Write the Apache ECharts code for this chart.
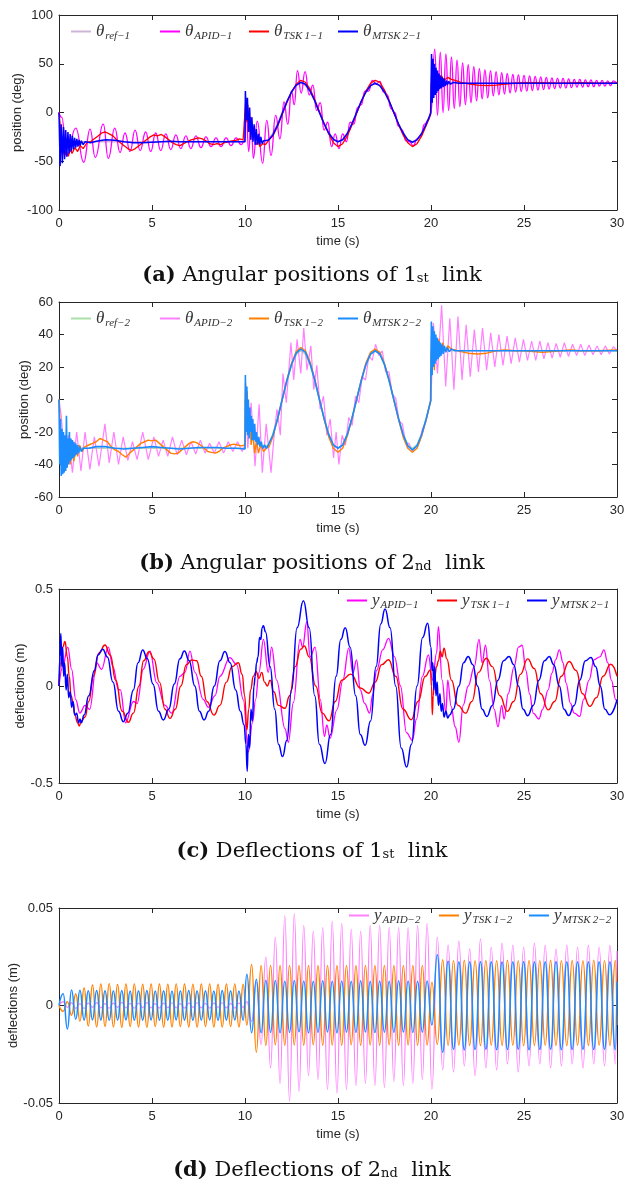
<!DOCTYPE html>
<html>
<head>
<meta charset="utf-8">
<script src="https://cdn.jsdelivr.net/npm/echarts@6/dist/echarts.min.js"></script>
<style>html,body{margin:0;padding:0;background:#fff}#c{width:624px;height:1185px}</style>
</head>
<body>
<div id="c"></div>
<script>
// ---------- (a) angular position of link 1 ----------
const a_ref = [[0,-30],[10,-30],[10,0],[10.25,-11.5],[10.5,-21.2],[10.75,-27.7],[11,-30],[11.25,-27.7],[11.5,-21.2],[11.75,-11.5],[12,0],[12.25,11.5],[12.5,21.2],[12.75,27.7],[13,30],[13.25,27.7],[13.5,21.2],[13.75,11.5],[14,0],[14.25,-11.5],[14.5,-21.2],[14.75,-27.7],[15,-30],[15.25,-27.7],[15.5,-21.2],[15.75,-11.5],[16,0],[16.25,11.5],[16.5,21.2],[16.75,27.7],[17,30],[17.25,27.7],[17.5,21.2],[17.75,11.5],[18,0],[18.25,-11.5],[18.5,-21.2],[18.75,-27.7],[19,-30],[19.25,-27.7],[19.5,-21.2],[19.75,-11.5],[20,0],[20,30],[30,30]];
const a_apid = [[0,0],[0.15,-5],[0.41,-45],[0.9,-16],[1.33,-51],[1.67,-17],[1.95,-46],[2.38,-12],[2.65,-47],[3.0,-16],[3.28,-41],[3.55,-21],[3.82,-40],[4.09,-18],[4.36,-39],[4.66,-20],[4.93,-40],[5.2,-21],[5.47,-39],[5.74,-22],[6.01,-38],[6.28,-23],[6.55,-37],[6.82,-24],[7.09,-37],[7.36,-24],[7.63,-36],[7.9,-25],[8.17,-35],[8.44,-26],[8.71,-35],[8.98,-26],[9.25,-34],[9.52,-26],[9.79,-33],[10,-28],
[10.04,15],[10.2,-40],[10.33,-5],[10.45,-47],[10.66,-9],[10.95,-52],[11.17,-8],[11.4,-44],[11.65,-3],[11.88,-27],[12.1,11],[12.3,-12],[12.5,22],[12.65,8],[12.82,43],[13.02,20],[13.23,42],[13.45,18],[13.65,28],[13.85,2],[14.05,10],[14.25,-18],[14.45,-10],[14.65,-35],[14.85,-22],[15.05,-37],[15.25,-22],[15.45,-30],[15.65,-10],[15.85,-12],[16.05,5],[16.25,8],[16.45,22],[16.65,22],[16.85,33],[17.05,29],[17.25,32],[17.45,21],[17.65,18],[17.85,4],[18.05,0],[18.25,-14],[18.45,-18],[18.65,-29],[18.85,-30],[19.05,-34],[19.25,-27],[19.45,-24],[19.65,-12],[19.85,-8],[20,0],
[20.2,65],[20.35,-3],[20.5,62],[20.65,0],[20.8,60],[20.95,2],[21.1,57],[21.25,4],[21.4,54],[21.55,6],[21.7,51],[21.85,8],[22.0,49],[22.15,10],[22.3,47],[22.45,12],[22.6,45],[22.75,14],[22.9,44],[23.05,15],[23.2,43],[23.35,17],[23.5,42],[23.65,18],[23.8,41],[23.95,19],[24.1,40],[24.25,20],[24.4,39],[24.55,21],[24.7,38.5],[24.85,21.5],[25.0,38],[25.15,22],[25.3,37.5],[25.45,22.5],[25.6,37],[25.75,23],[25.9,36.5],[26.05,23.5],[26.2,36],[26.35,24],[26.5,35.5],[26.65,24.5],[26.8,35],[26.95,25],[27.1,35],[27.25,25],[27.4,34.5],[27.55,25.5],[27.7,34],[27.85,26],[28.0,34],[28.15,26],[28.3,33.5],[28.45,26.5],[28.6,33.5],[28.75,26.5],[28.9,33],[29.05,27],[29.2,33],[29.35,27],[29.5,32.5],[29.65,27.5],[29.8,32.5],[30,30]];
const a_tsk = [[0,0],[0.1,-20],[0.2,-38],[0.3,-44],[0.4,-40],[0.5,-45],[0.6,-38],[0.7,-42],[0.85,-36],[1.0,-40],[1.15,-34],[1.3,-37],[1.5,-31],[1.7,-30],[1.9,-27],[2.1,-24],[2.3,-21],[2.5,-20],[2.7,-22],[2.9,-24],[3.1,-28],[3.3,-31],[3.5,-34],[3.7,-37],[3.9,-39],[4.1,-37],[4.3,-34],[4.5,-31],[4.7,-28],[4.9,-25],[5.1,-23],[5.3,-24],[5.5,-22.5],[5.7,-25],[5.9,-28],[6.1,-31],[6.3,-33],[6.5,-34],[6.7,-32],[6.9,-30],[7.1,-28],[7.3,-27],[7.5,-26],[7.7,-27],[7.9,-29],[8.1,-32],[8.3,-33],[8.5,-32],[8.7,-33],[8.9,-31],[9.1,-30],[9.3,-29],[9.5,-28.5],[9.7,-27],[9.9,-28],[10,-27],
[10.05,15],[10.1,-10],[10.15,8],[10.22,-20],[10.3,-5],[10.4,-28],[10.5,-20],[10.6,-33],[10.7,-30],[10.8,-35],[10.95,-32],[11.1,-33],[11.25,-29],[11.5,-24],[11.75,-14],[12,-2],[12.25,10],[12.5,21],[12.75,29],[13,33],[13.25,31],[13.5,24],[13.75,13],[14,1],[14.25,-11],[14.5,-22],[14.75,-31],[15,-35],[15.25,-32],[15.5,-24],[15.75,-13],[16,-1],[16.25,11],[16.5,22],[16.75,30],[17,33],[17.25,31],[17.5,23],[17.75,12],[18,0],[18.25,-12],[18.5,-23],[18.75,-31],[19,-35],[19.25,-32],[19.5,-24],[19.75,-13],[19.98,-2],
[20.04,45],[20.1,25],[20.18,42],[20.26,30],[20.35,40],[20.45,32],[20.55,38],[20.7,33],[20.9,36],[21.1,34],[21.3,33],[21.6,31],[22,29.5],[22.5,28],[23,27.5],[23.5,28],[24,29],[24.5,30],[25,30.5],[26,30.5],[27,30],[28,30.5],[29,30],[30,30]];
const a_mtsk = [[0,0],[0.06,-55],[0.12,-12],[0.18,-52],[0.24,-15],[0.3,-48],[0.36,-18],[0.42,-45],[0.48,-20],[0.54,-42],[0.6,-22],[0.66,-40],[0.72,-24],[0.78,-38],[0.84,-26],[0.9,-36],[0.96,-27],[1.02,-35],[1.08,-28],[1.14,-34],[1.2,-29],[1.3,-33],[1.4,-30],[1.5,-32],[1.7,-31],[2.0,-29.5],[2.5,-28],[3.0,-28.5],[3.5,-30],[4.0,-31],[4.5,-31],[5.0,-30.5],[5.5,-30],[6.0,-29.5],[6.5,-30],[7.0,-30],[8,-30],[9,-30],[10,-30],
[10.02,22],[10.08,-8],[10.13,15],[10.19,-20],[10.25,5],[10.31,-28],[10.37,-5],[10.43,-30],[10.49,-12],[10.55,-33],[10.61,-17],[10.67,-33],[10.73,-22],[10.79,-33],[10.85,-25],[10.92,-32],[11.0,-29],[11.1,-31],[11.25,-28.5],[11.5,-23],[11.75,-13],[12,-1],[12.25,11],[12.5,21],[12.75,28],[13,31],[13.25,29],[13.5,22],[13.75,12],[14,0],[14.25,-11.5],[14.5,-21],[14.75,-27.5],[15,-30],[15.25,-28],[15.5,-21.5],[15.75,-11.5],[16,0],[16.25,11.5],[16.5,21],[16.75,27.5],[17,30],[17.25,27.5],[17.5,21],[17.75,11.5],[18,0],[18.25,-11.5],[18.5,-21],[18.75,-28],[19,-30.5],[19.25,-28],[19.5,-21.5],[19.75,-11.5],[19.98,-1],
[20.03,60],[20.07,10],[20.11,55],[20.15,15],[20.19,50],[20.23,18],[20.27,46],[20.31,20],[20.35,43],[20.39,22],[20.43,40],[20.47,24],[20.51,38],[20.55,25],[20.6,36],[20.65,26],[20.7,35],[20.76,27],[20.82,33],[20.88,28],[20.95,32],[21.05,29],[21.2,31],[21.5,30],[22,30],[25,30],[30,30]];

// ---------- (b) angular position of link 2 ----------
const b_ref = [[0,-30],[10,-30],[10,0],[10.25,-11.5],[10.5,-21.2],[10.75,-27.7],[11,-30],[11.25,-27.7],[11.5,-21.2],[11.75,-11.5],[12,0],[12.25,11.5],[12.5,21.2],[12.75,27.7],[13,30],[13.25,27.7],[13.5,21.2],[13.75,11.5],[14,0],[14.25,-11.5],[14.5,-21.2],[14.75,-27.7],[15,-30],[15.25,-27.7],[15.5,-21.2],[15.75,-11.5],[16,0],[16.25,11.5],[16.5,21.2],[16.75,27.7],[17,30],[17.25,27.7],[17.5,21.2],[17.75,11.5],[18,0],[18.25,-11.5],[18.5,-21.2],[18.75,-27.7],[19,-30],[19.25,-27.7],[19.5,-21.2],[19.75,-11.5],[20,0],[20,30],[30,30]];
const b_apid = [[0,0],[0.12,-10],[0.3,-38],[0.5,-22],[0.72,-45],[0.95,-20],[1.18,-44],[1.4,-20],[1.66,-43],[1.9,-23],[2.15,-41],[2.47,-15],[2.7,-39],[2.95,-20],[3.2,-40],[3.45,-23],[3.7,-37.5],[3.95,-26],[4.2,-37],[4.5,-20],[4.8,-37],[5.1,-23],[5.35,-35],[5.6,-25],[5.85,-35],[6.1,-23],[6.35,-34],[6.6,-25],[6.85,-34],[7.1,-26],[7.35,-33.5],[7.6,-25],[7.85,-33],[8.1,-27],[8.35,-33],[8.6,-26],[8.85,-33],[9.1,-26],[9.35,-32],[9.6,-26],[9.85,-32],[10,-28],
[10.03,5],[10.15,-30],[10.33,-2],[10.54,-41],[10.76,-3],[10.93,-45],[11.14,-15],[11.4,-45],[11.58,-20],[11.72,-6],[11.9,-22],[12.04,16],[12.22,-2],[12.47,35],[12.62,12],[12.8,37],[13.0,16],[13.16,44],[13.33,18],[13.54,33],[13.7,6],[13.86,21],[14.04,-6],[14.22,2],[14.4,-22],[14.58,-12],[14.76,-36],[14.9,-20],[15.05,-40],[15.22,-22],[15.4,-28],[15.58,-11],[15.76,-16],[15.94,2],[16.12,-2],[16.3,14],[16.48,12],[16.66,27],[16.84,24],[17.02,34],[17.2,27],[17.38,30],[17.56,17],[17.74,17],[17.92,3],[18.1,1],[18.28,-13],[18.46,-15],[18.64,-27],[18.82,-27],[19,-32],[19.18,-29],[19.36,-27],[19.54,-18],[19.72,-14],[19.9,-4],[20,0],
[20.13,47],[20.35,16],[20.57,58],[20.79,8],[21.01,50],[21.23,6],[21.45,51],[21.67,12],[21.89,46],[22.11,14],[22.33,43],[22.55,17],[22.77,44],[22.99,18],[23.21,41],[23.43,20],[23.65,40],[23.87,21],[24.09,39],[24.31,22],[24.53,38],[24.75,23],[24.97,37],[25.19,24],[25.41,36],[25.63,24],[25.85,36],[26.07,25],[26.29,35],[26.51,25.5],[26.73,34.5],[26.95,26],[27.17,35],[27.39,26.5],[27.61,34],[27.83,27],[28.05,34],[28.27,27],[28.49,33.5],[28.71,27.5],[28.93,33],[29.15,27.5],[29.37,33],[29.59,28],[29.81,32.5],[30,30]];
const b_tsk = [[0,0],[0.1,-25],[0.2,-38],[0.3,-30],[0.4,-42],[0.5,-32],[0.6,-40],[0.7,-30],[0.8,-38],[0.9,-29],[1.0,-35],[1.1,-28],[1.25,-32],[1.4,-29],[1.6,-28],[1.8,-27],[2.0,-26],[2.2,-24],[2.4,-25],[2.6,-26],[2.8,-29],[3.0,-31],[3.2,-32],[3.4,-34],[3.6,-35.5],[3.8,-33],[4.0,-31],[4.2,-29],[4.4,-27],[4.6,-26],[4.8,-25],[5.0,-25.5],[5.2,-25],[5.4,-27],[5.6,-29],[5.8,-31],[6.0,-33],[6.2,-33.5],[6.4,-33],[6.6,-31],[6.8,-29],[7.0,-27],[7.2,-26],[7.4,-26.5],[7.6,-28],[7.8,-30],[8.0,-32],[8.2,-32.5],[8.4,-33],[8.6,-32],[8.8,-30],[9.0,-29],[9.2,-28],[9.4,-27.5],[9.6,-28],[9.8,-28.5],[10,-28],
[10.03,10],[10.07,-15],[10.12,5],[10.18,-20],[10.25,-10],[10.33,-28],[10.42,-20],[10.52,-33],[10.62,-25],[10.72,-33],[10.85,-28],[11,-32],[11.15,-30],[11.3,-29],[11.5,-23],[11.75,-12],[12,0],[12.25,12],[12.5,22],[12.75,29.5],[13,32],[13.25,30],[13.5,23],[13.75,12.5],[14,0.5],[14.25,-12],[14.5,-23],[14.75,-30],[15,-32.5],[15.25,-30],[15.5,-22.5],[15.75,-12],[16,0],[16.25,12],[16.5,22.5],[16.75,29],[17,31],[17.25,29],[17.5,22],[17.75,12],[18,0],[18.25,-12],[18.5,-23],[18.75,-30],[19,-32.5],[19.25,-30],[19.5,-22.5],[19.75,-12],[19.98,-1],
[20.04,43],[20.08,20],[20.12,40],[20.18,18],[20.25,38],[20.33,25],[20.42,37],[20.52,28],[20.62,35],[20.75,30],[20.9,33],[21.1,31],[21.3,30.5],[21.6,29.5],[22,28.5],[22.5,28],[23,28.5],[23.5,30],[24,30.5],[24.5,30],[25,30],[25.5,29.5],[26,29],[26.5,29.5],[27,30],[27.5,30.5],[28,30],[29,30],[30,30.5]];
const b_mtsk = [[0,0],[0.04,-40],[0.08,-12],[0.12,-47],[0.16,-18],[0.2,-46],[0.24,-20],[0.28,-45],[0.32,-22],[0.36,-44],[0.4,-10],[0.44,-42],[0.48,-24],[0.52,-40],[0.56,-20],[0.6,-38],[0.64,-24],[0.68,-37],[0.72,-25],[0.76,-36],[0.8,-26],[0.85,-35],[0.9,-27],[0.95,-34],[1.0,-28],[1.06,-33],[1.12,-29],[1.2,-32],[1.3,-30],[1.4,-31],[1.6,-30],[2.0,-29],[2.5,-29],[3.0,-30],[3.5,-30.5],[4.0,-30],[4.5,-29.5],[5.0,-29],[5.5,-29.5],[6.0,-30],[6.5,-30.5],[7.0,-30],[7.5,-29.5],[8.0,-29.5],[8.5,-29.5],[9.0,-30],[9.5,-30],[10,-30.5],
[10.02,15],[10.06,-20],[10.1,8],[10.14,-22],[10.18,0],[10.22,-24],[10.26,-5],[10.3,-20],[10.34,-10],[10.38,-25],[10.42,-12],[10.47,-25],[10.52,-15],[10.57,-26],[10.62,-20],[10.68,-28],[10.74,-23],[10.8,-29],[10.87,-26],[10.95,-30],[11.05,-28],[11.15,-30],[11.25,-28],[11.5,-22],[11.75,-12],[12,0],[12.25,11.5],[12.5,21.5],[12.75,28.5],[13,31],[13.25,29],[13.5,22],[13.75,12],[14,0],[14.25,-11.5],[14.5,-21.5],[14.75,-28],[15,-30],[15.25,-28],[15.5,-21.5],[15.75,-11.5],[16,0],[16.25,11.5],[16.5,21.5],[16.75,28],[17,30],[17.25,28],[17.5,21.5],[17.75,11.5],[18,0],[18.25,-11.5],[18.5,-21.5],[18.75,-28.5],[19,-31],[19.25,-28.5],[19.5,-21.5],[19.75,-11.5],[19.98,-1],
[20.02,48],[20.06,15],[20.1,45],[20.14,20],[20.18,42],[20.22,22],[20.26,40],[20.3,24],[20.34,38],[20.38,25],[20.42,36],[20.46,26],[20.5,35],[20.55,27],[20.6,34],[20.66,28],[20.72,33],[20.8,29],[20.88,32],[20.98,29.5],[21.1,31],[21.3,30],[22,30],[25,30],[30,30]];

// ---------- (c) deflection of link 1 ----------
const c_apid = [[0,0],[0.2,0.1],[0.47,0.2],[0.68,0.086],[0.9,-0.07],[1.12,-0.14],[1.4,-0.1],[1.65,-0.12],[2.02,0.12],[2.29,0.086],[2.65,0.2],[2.9,0.1],[3.19,-0.017],[3.3,-0.02],[3.58,-0.19],[4.0,-0.08],[4.2,-0.09],[4.53,0.086],[4.89,0.18],[5.25,0.017],[5.7,-0.1],[6.06,-0.14],[6.5,0.05],[6.77,0.07],[7.04,0.18],[7.31,0.07],[7.76,-0.07],[8.03,-0.11],[8.39,-0.05],[8.65,0.05],[9.19,0.146],[9.55,0.11],[9.91,-0.07],[10.18,-0.34],[10.4,-0.19],[10.57,-0.07],[10.75,0.07],[10.99,0.24],[11.25,0.07],[11.43,0.2],[11.7,0.03],[12.15,-0.22],[12.33,-0.29],[12.6,-0.085],[12.96,0.24],[13.1,0.2],[13.32,0.33],[13.5,0.15],[13.77,0.2],[14.05,-0.07],[14.27,-0.26],[14.4,-0.2],[14.57,-0.27],[14.94,-0.123],[15.26,0.03],[15.58,0.195],[15.8,0.066],[16.0,0.135],[16.2,-0.02],[16.43,-0.09],[16.7,-0.14],[16.86,-0.045],[17.08,0.08],[17.4,0.186],[17.72,0.246],[18.04,0.15],[18.36,0.0],[18.68,-0.24],[19.0,-0.28],[19.22,-0.17],[19.54,0.05],[19.86,0.16],[20.08,0.03],[20.3,0.17],[20.4,0.306],[20.6,0.03],[20.8,-0.14],[20.9,0.03],[21.08,-0.105],[21.3,-0.21],[21.5,-0.29],[21.73,-0.1],[22.0,0.0],[22.33,0.1],[22.58,0.24],[22.75,0.12],[22.93,0.21],[23.14,0.03],[23.4,-0.12],[23.6,-0.21],[23.8,-0.1],[23.93,-0.17],[24.15,-0.04],[24.47,0.1],[24.7,0.2],[24.9,0.21],[25.1,0.08],[25.3,-0.04],[25.5,-0.14],[25.8,-0.17],[26.0,-0.12],[26.3,-0.02],[26.5,0.066],[26.7,0.135],[26.9,0.186],[27.1,0.12],[27.26,0.015],[27.5,-0.09],[27.7,-0.14],[28.0,-0.157],[28.2,-0.07],[28.5,0.03],[28.76,0.135],[29.08,0.15],[29.3,0.186],[29.5,0.12],[29.7,0.03],[29.93,-0.07],[30,-0.08]];
const c_tsk = [[0,0],[0.1,0.12],[0.2,0.2],[0.32,0.23],[0.45,0.15],[0.55,0.05],[0.65,-0.05],[0.75,-0.08],[0.85,-0.15],[1.0,-0.19],[1.09,-0.206],[1.2,-0.18],[1.4,-0.16],[1.6,-0.08],[1.85,0.05],[2.15,0.17],[2.47,0.211],[2.75,0.16],[3.05,0.03],[3.4,-0.13],[3.73,-0.187],[4.0,-0.14],[4.3,0.0],[4.55,0.13],[4.84,0.177],[5.1,0.14],[5.4,0.02],[5.7,-0.12],[5.97,-0.167],[6.25,-0.12],[6.55,0.0],[6.85,0.11],[7.13,0.134],[7.4,0.13],[7.65,0.05],[7.95,-0.08],[8.33,-0.15],[8.65,-0.1],[9.0,0.02],[9.3,0.1],[9.64,0.12],[9.85,0.06],[9.98,-0.05],[10.1,-0.227],[10.2,-0.12],[10.3,-0.02],[10.45,0.05],[10.6,0.075],[10.75,0.04],[10.9,0.07],[11.05,0.02],[11.2,0.0],[11.35,0.03],[11.55,-0.03],[11.8,-0.1],[12.15,-0.115],[12.4,-0.05],[12.7,0.1],[13.0,0.19],[13.19,0.206],[13.45,0.15],[13.8,0.0],[14.15,-0.14],[14.52,-0.18],[14.85,-0.08],[15.2,0.03],[15.69,0.061],[16.2,-0.01],[16.65,-0.037],[17.0,0.02],[17.35,0.11],[17.72,0.135],[18.1,0.05],[18.5,-0.12],[18.94,-0.174],[19.3,-0.08],[19.7,0.05],[19.97,0.083],[20.03,0.0],[20.07,-0.148],[20.12,-0.05],[20.2,0.05],[20.3,0.1],[20.4,0.13],[20.5,0.18],[20.6,0.15],[20.7,0.195],[20.85,0.14],[21.1,0.03],[21.45,-0.1],[21.86,-0.14],[22.2,-0.08],[22.55,0.07],[22.97,0.143],[23.3,0.1],[23.7,-0.05],[24.1,-0.131],[24.45,-0.08],[24.8,0.06],[25.2,0.14],[25.55,0.09],[25.9,-0.04],[26.3,-0.123],[26.65,-0.08],[27.0,0.05],[27.43,0.126],[27.8,0.08],[28.15,-0.04],[28.54,-0.105],[28.9,-0.06],[29.25,0.05],[29.66,0.112],[30,0.05]];
const c_mtsk = [[0,0],[0.05,0.15],[0.1,0.27],[0.15,0.1],[0.2,0.2],[0.25,0.05],[0.3,0.12],[0.38,-0.02],[0.45,0.06],[0.52,-0.06],[0.6,-0.03],[0.68,-0.11],[0.75,-0.08],[0.85,-0.15],[0.95,-0.14],[1.05,-0.19],[1.13,-0.17],[1.2,-0.19],[1.35,-0.15],[1.6,-0.05],[1.9,0.08],[2.1,0.16],[2.35,0.19],[2.6,0.15],[2.9,0.02],[3.2,-0.13],[3.46,-0.184],[3.7,-0.14],[4.0,-0.02],[4.25,0.12],[4.5,0.186],[4.75,0.14],[5.05,0.01],[5.35,-0.13],[5.61,-0.175],[5.9,-0.12],[6.2,0.01],[6.5,0.14],[6.74,0.18],[7.0,0.13],[7.3,0.0],[7.55,-0.13],[7.8,-0.175],[8.05,-0.13],[8.35,0.0],[8.65,0.13],[8.92,0.178],[9.2,0.12],[9.5,-0.02],[9.75,-0.13],[9.95,-0.2],[10.05,-0.3],[10.12,-0.44],[10.18,-0.25],[10.25,-0.32],[10.32,-0.12],[10.4,-0.18],[10.48,0.0],[10.55,0.05],[10.62,0.12],[10.7,0.15],[10.78,0.25],[10.85,0.24],[10.92,0.3],[10.99,0.31],[11.1,0.28],[11.35,0.1],[11.6,-0.12],[11.8,-0.3],[12.02,-0.364],[12.25,-0.28],[12.5,-0.02],[12.8,0.3],[13.14,0.44],[13.45,0.3],[13.75,-0.05],[14.0,-0.3],[14.3,-0.4],[14.6,-0.25],[14.9,0.05],[15.15,0.24],[15.39,0.3],[15.65,0.2],[15.95,-0.05],[16.2,-0.25],[16.46,-0.306],[16.75,-0.18],[17.05,0.1],[17.3,0.32],[17.53,0.397],[17.8,0.3],[18.1,0.0],[18.4,-0.32],[18.69,-0.418],[18.95,-0.3],[19.25,0.0],[19.55,0.25],[19.82,0.323],[20.0,0.2],[20.05,0.08],[20.1,0.12],[20.15,-0.02],[20.2,0.1],[20.27,-0.05],[20.33,0.02],[20.4,-0.1],[20.48,-0.04],[20.55,-0.13],[20.62,-0.09],[20.7,-0.16],[20.8,-0.13],[20.9,-0.165],[21.0,-0.15],[21.2,-0.12],[21.5,0.0],[21.75,0.12],[22.0,0.152],[22.25,0.11],[22.5,0.0],[22.75,-0.12],[23.0,-0.157],[23.3,-0.1],[23.6,0.03],[23.9,0.13],[24.2,0.152],[24.45,0.11],[24.7,0.0],[24.95,-0.12],[25.2,-0.153],[25.5,-0.1],[25.8,0.03],[26.1,0.13],[26.36,0.152],[26.6,0.11],[26.9,0.0],[27.15,-0.12],[27.4,-0.152],[27.7,-0.1],[28.0,0.03],[28.3,0.13],[28.6,0.147],[28.85,0.1],[29.1,0.0],[29.35,-0.12],[29.6,-0.148],[30,-0.07]];

// ---------- (d) deflection of link 2 (values at shared extremum times) ----------
const d_time = [0,0.225,0.45,0.675,0.9,1.125,1.35,1.575,1.8,2.025,2.25,2.475,2.7,2.925,3.15,3.375,3.6,3.825,4.05,4.275,4.5,4.725,4.95,5.175,5.4,5.625,5.85,6.075,6.3,6.525,6.75,6.975,7.2,7.425,7.65,7.875,8.1,8.325,8.55,8.775,9.0,9.225,9.45,9.675,9.9,
10.1,10.355,10.61,10.865,11.12,11.375,11.63,11.885,12.14,12.395,12.65,12.905,13.16,13.415,13.67,13.925,14.18,14.435,14.69,14.945,15.2,15.455,15.71,15.965,16.22,16.475,16.73,16.985,17.24,17.495,17.75,18.005,18.26,18.515,18.77,19.025,19.28,19.535,19.79,
20.05,20.34,20.63,20.92,21.21,21.5,21.79,22.08,22.37,22.66,22.95,23.24,23.53,23.82,24.11,24.4,24.69,24.98,25.27,25.56,25.85,26.14,26.43,26.72,27.01,27.3,27.59,27.88,28.17,28.46,28.75,29.04,29.33,29.62,29.91,30];
const d_apid = [0,0.002,-0.001,0.0015,-0.0015,0.001,-0.0015,0.0012,-0.001,0.0015,-0.0012,0.001,-0.0014,0.0012,-0.001,0.0016,-0.0012,0.0011,-0.0014,0.0012,-0.0011,0.0015,-0.0012,0.001,-0.0013,0.0012,-0.0011,0.0014,-0.0012,0.001,-0.0013,0.0012,-0.001,0.0014,-0.0012,0.0011,-0.0013,0.0012,-0.001,0.0014,-0.0012,0.0011,-0.0013,0.0012,-0.001,
0.002,-0.008,0.012,-0.02,0.025,-0.032,0.035,-0.04,0.046,-0.049,0.047,-0.044,0.041,-0.036,0.038,-0.038,0.04,-0.043,0.043,-0.045,0.042,-0.043,0.039,-0.041,0.038,-0.04,0.041,-0.041,0.041,-0.042,0.04,-0.039,0.04,-0.041,0.04,-0.04,0.041,-0.038,0.042,
-0.043,0.035,-0.033,0.031,-0.034,0.033,-0.031,0.029,-0.036,0.034,-0.032,0.03,-0.033,0.032,-0.03,0.031,-0.034,0.03,-0.031,0.032,-0.03,0.031,-0.032,0.029,-0.031,0.031,-0.03,0.03,-0.032,0.031,-0.03,0.03,-0.031,0.031,-0.03,0.028];
const d_tsk = [0,-0.003,0.002,-0.005,0.006,-0.008,0.009,-0.0105,0.0105,-0.011,0.011,-0.0108,0.0112,-0.011,0.0108,-0.0112,0.011,-0.0108,0.0111,-0.011,0.0109,-0.0112,0.011,-0.0108,0.011,-0.0111,0.0109,-0.011,0.0111,-0.0108,0.011,-0.011,0.0109,-0.0111,0.011,-0.0108,0.0111,-0.011,0.0109,-0.0111,0.011,-0.0108,0.0111,-0.011,0.0109,
-0.01,0.021,-0.024,0.0205,-0.0205,0.0206,-0.0202,0.0205,-0.0204,0.0206,-0.0203,0.0205,-0.0204,0.0206,-0.0202,0.0205,-0.0204,0.0206,-0.0203,0.0205,-0.0204,0.0206,-0.0202,0.0205,-0.0204,0.0206,-0.0203,0.0205,-0.0204,0.0206,-0.0202,0.0205,-0.0204,0.0206,-0.0203,0.0205,-0.0204,0.0206,-0.0203,
0.012,-0.02,0.0235,-0.0205,0.023,-0.0204,0.0232,-0.0205,0.023,-0.0206,0.0231,-0.0204,0.023,-0.0205,0.0232,-0.0204,0.023,-0.0206,0.0231,-0.0205,0.023,-0.0204,0.0232,-0.0205,0.023,-0.0206,0.0231,-0.0204,0.023,-0.0205,0.0232,-0.0204,0.023,-0.0205,0.0231,-0.01];
const d_mtsk = [0,0.006,-0.012,0.008,-0.007,0.0078,-0.0075,0.0076,-0.0074,0.0077,-0.0075,0.0076,-0.0076,0.0075,-0.0075,0.0077,-0.0074,0.0075,-0.0076,0.0076,-0.0075,0.0077,-0.0074,0.0075,-0.0076,0.0076,-0.0075,0.0075,-0.0074,0.0076,-0.0075,0.0077,-0.0076,0.0075,-0.0075,0.0076,-0.0074,0.0075,-0.0076,0.0077,-0.0075,0.0076,-0.0074,0.0075,-0.0076,
0.016,-0.014,0.0135,-0.014,0.013,-0.0138,0.0128,-0.014,0.0125,-0.0138,0.0128,-0.0135,0.0126,-0.014,0.0125,-0.0138,0.0127,-0.0136,0.0125,-0.014,0.0126,-0.0137,0.0125,-0.0138,0.0127,-0.0136,0.0125,-0.0139,0.0126,-0.0137,0.0125,-0.0138,0.0127,-0.0136,0.0126,-0.0138,0.0125,-0.0137,0.0126,
-0.01,0.026,-0.024,0.0228,-0.0226,0.0225,-0.0228,0.0224,-0.0226,0.0226,-0.0225,0.0224,-0.0227,0.0225,-0.0226,0.0224,-0.0225,0.0226,-0.0227,0.0225,-0.0226,0.0224,-0.0225,0.0226,-0.0227,0.0224,-0.0226,0.0225,-0.0225,0.0224,-0.0226,0.0225,-0.0225,0.0224,-0.0226,0.012];

const xTicks = [0, 5, 10, 15, 20, 25, 30];
const yRanges = [[-100, 100, 50], [-60, 60, 20], [-0.5, 0.5, 0.5], [-0.05, 0.05, 0.05]];
const yNames = ['position (deg)', 'position (deg)', 'deflections (m)', 'deflections (m)'];
const captions = [
  ['(a)', ' Angular positions of 1', 'st', '  link'],
  ['(b)', ' Angular positions of 2', 'nd', '  link'],
  ['(c)', ' Deflections of 1', 'st', '  link'],
  ['(d)', ' Deflections of 2', 'nd', '  link']
];

const pair = (ts, vs) => ts.map((t, i) => [t, vs[i]]);

const grids = [
  {left: 59, top: 15, width: 558, height: 195},
  {left: 59, top: 302, width: 558, height: 195},
  {left: 59, top: 589, width: 558, height: 194},
  {left: 59, top: 908, width: 558, height: 195}
].map(g => Object.assign(g, {containLabel: false, outerBoundsMode: 'none'}));
const nameGaps = [35, 28, 32, 39];
const capTop = [263, 551, 839, 1158];

const AX = '#262626';
const xAxes = [], yAxes = [];
grids.forEach((g, i) => {
  const common = {gridIndex: i, type: 'value', min: 0, max: 30, interval: 5,
    axisLine: {show: true, onZero: false, lineStyle: {color: AX, width: 1}},
    axisTick: {show: true, inside: true, length: 5, lineStyle: {color: AX}},
    splitLine: {show: false}};
  xAxes.push(Object.assign({}, common, {position: 'bottom',
    axisLabel: {show: true, color: AX, fontSize: 13, fontFamily: 'Liberation Sans', margin: 7},
    name: 'time (s)', nameLocation: 'middle', nameGap: 25, nameMoveOverlap: false,
    nameTextStyle: {color: AX, fontSize: 13, fontFamily: 'Liberation Sans'}}));
  xAxes.push(Object.assign({}, common, {position: 'top', axisLabel: {show: false}}));
  const r = yRanges[i];
  const yc = {gridIndex: i, type: 'value', min: r[0], max: r[1], interval: r[2],
    axisLine: {show: true, onZero: false, lineStyle: {color: AX, width: 1}},
    axisTick: {show: true, inside: true, length: 5, lineStyle: {color: AX}},
    splitLine: {show: false}};
  yAxes.push(Object.assign({}, yc, {position: 'left',
    axisLabel: {show: true, color: AX, fontSize: 13, fontFamily: 'Liberation Sans', margin: 6},
    name: yNames[i], nameLocation: 'middle', nameGap: nameGaps[i], nameMoveOverlap: false,
    nameTextStyle: {color: AX, fontSize: 13, fontFamily: 'Liberation Sans'}}));
  yAxes.push(Object.assign({}, yc, {position: 'right', axisLabel: {show: false}}));
});

const series = [];
function addLine(name, data, color, gi, width, smooth) {
  series.push({type: 'line', name: name, data: data, xAxisIndex: gi * 2, yAxisIndex: gi * 2,
    showSymbol: false, symbol: 'none', smooth: smooth || false, smoothMonotone: 'x',
    lineStyle: {color: color, width: width}, itemStyle: {color: color}, animation: false});
}
const COL = {
  a_ref: '#cdb5d6', a_apid: '#ff00ff', a_tsk: '#ff0000', a_mtsk: '#0000ff',
  b_ref: '#a9dfa9', b_apid: '#ff80ff', b_tsk: '#ff8000', b_mtsk: '#1a8cff',
  c_apid: '#ff00ff', c_tsk: '#ff0000', c_mtsk: '#0000ff',
  d_apid: '#ff80ff', d_tsk: '#ff8000', d_mtsk: '#1a8cff'
};
addLine('a_ref', a_ref, COL.a_ref, 0, 1.5);
addLine('a_apid', a_apid, COL.a_apid, 0, 1.3, 0.5);
addLine('a_tsk', a_tsk, COL.a_tsk, 0, 1.3);
addLine('a_mtsk', a_mtsk, COL.a_mtsk, 0, 1.5);
addLine('b_ref', b_ref, COL.b_ref, 1, 1.5);
addLine('b_apid', b_apid, COL.b_apid, 1, 1.2);
addLine('b_tsk', b_tsk, COL.b_tsk, 1, 1.4);
addLine('b_mtsk', b_mtsk, COL.b_mtsk, 1, 1.6);
addLine('c_apid', c_apid, COL.c_apid, 2, 1.3, 0.4);
addLine('c_tsk', c_tsk, COL.c_tsk, 2, 1.4, 0.5);
addLine('c_mtsk', c_mtsk, COL.c_mtsk, 2, 1.5, 0.5);
addLine('d_apid', pair(d_time, d_apid), COL.d_apid, 3, 1.2, 0.5);
addLine('d_tsk', pair(d_time, d_tsk), COL.d_tsk, 3, 1.4, 0.5);
addLine('d_mtsk', pair(d_time, d_mtsk), COL.d_mtsk, 3, 1.5, 0.5);

const LEG = {
  a_ref: ['θ', 'ref−1'], a_apid: ['θ', 'APID−1'], a_tsk: ['θ', 'TSK\u20091−1'], a_mtsk: ['θ', 'MTSK\u20092−1'],
  b_ref: ['θ', 'ref−2'], b_apid: ['θ', 'APID−2'], b_tsk: ['θ', 'TSK\u20091−2'], b_mtsk: ['θ', 'MTSK\u20092−2'],
  c_apid: ['y', 'APID−1'], c_tsk: ['y', 'TSK\u20091−1'], c_mtsk: ['y', 'MTSK\u20092−1'],
  d_apid: ['y', 'APID−2'], d_tsk: ['y', 'TSK\u20091−2'], d_mtsk: ['y', 'MTSK\u20092−2']
};
const legPos = [
  ['a_ref', 71, 33], ['a_apid', 160, 33], ['a_tsk', 249, 33], ['a_mtsk', 338, 33],
  ['b_ref', 71, 320], ['b_apid', 160, 320], ['b_tsk', 249, 320], ['b_mtsk', 338, 320],
  ['c_apid', 347, 602], ['c_tsk', 437, 602], ['c_mtsk', 527, 602],
  ['d_apid', 349, 917], ['d_tsk', 439, 917], ['d_mtsk', 529, 917]
];
const legends = legPos.map(p => ({
  data: [p[0]], left: p[1], top: p[2] - 10, padding: 0, itemWidth: 20, itemHeight: 2, icon: 'rect',
  selectedMode: false, itemGap: 0,
  formatter: n => '{m|' + LEG[n][0] + '}{s|' + LEG[n][1] + '}',
  textStyle: {color: '#333', rich: {
    m: {fontFamily: 'Liberation Serif', fontStyle: 'italic', fontSize: 17, lineHeight: 20, verticalAlign: 'middle', color: '#333'},
    s: {fontFamily: 'Liberation Serif', fontStyle: 'italic', fontSize: 11, lineHeight: 20, verticalAlign: 'bottom', padding: [0, 0, 0, 1], color: '#333'}
  }}
}));

const titles = captions.map((c, i) => ({
  text: '{b|' + c[0] + '}{r|' + c[1] + '}{s|' + c[2] + '}{r|' + c[3] + '}',
  left: 'center', top: capTop[i], padding: 0,
  textStyle: {fontWeight: 'normal', rich: {
    b: {fontFamily: 'DejaVu Serif', fontWeight: 'bold', fontSize: 21, color: '#111', lineHeight: 26, verticalAlign: 'middle'},
    r: {fontFamily: 'DejaVu Serif', fontWeight: 'normal', fontSize: 21, color: '#111', lineHeight: 26, verticalAlign: 'middle'},
    s: {fontFamily: 'DejaVu Serif', fontWeight: 'normal', fontSize: 13, color: '#111', lineHeight: 15, verticalAlign: 'middle', padding: [5, 0, 0, 0]}
  }}
}));

const chart = echarts.init(document.getElementById('c'), null, {renderer: 'canvas'});
chart.setOption({
  animation: false,
  backgroundColor: '#fff',
  title: titles,
  legend: legends,
  grid: grids,
  xAxis: xAxes,
  yAxis: yAxes,
  series: series
});
</script>
</body>
</html>
